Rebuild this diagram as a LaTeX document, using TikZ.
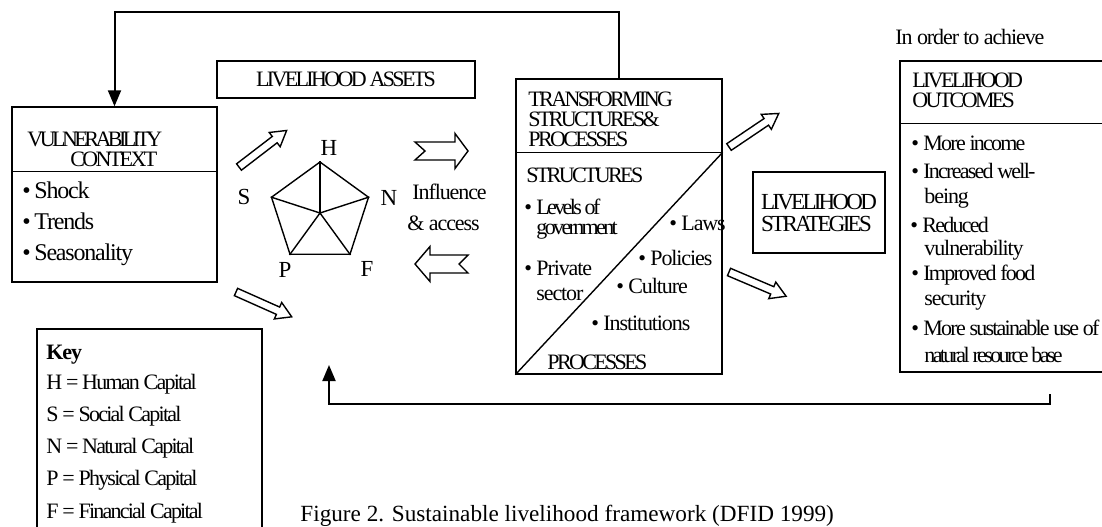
\documentclass[tikz,border=0pt]{standalone}
\usepackage{fontspec}
\setmainfont{Liberation Serif}
\newfontfamily\plainfont{Liberation Serif}
\newfontfamily\bodyfont[LetterSpace=-5]{Liberation Serif}
\newfontfamily\keyfont[LetterSpace=-8]{Liberation Serif}
\newfontfamily\capsfont[LetterSpace=-12]{Liberation Serif}
\newfontfamily\narrowfont[LetterSpace=-16]{Liberation Serif}
\usetikzlibrary{arrows.meta,shapes.geometric}

\newcommand{\bul}{\makebox[6pt][l]{\textbullet}}

% hollow block arrow: tail, angle, length, head length, shaft/head half width, notch
\newcommand{\blockarrow}[7]{%
  \begin{scope}[shift={#1},rotate=#2]
    \pgfmathsetmacro{\hs}{#3-#4}
    \draw[hollow] (0,-#5) -- (\hs,-#5) -- (\hs,-#6) -- (#3,0)
      -- (\hs,#6) -- (\hs,#5) -- (0,#5) -- (#7,0) -- cycle;
  \end{scope}}

\begin{document}
\begin{tikzpicture}[x=0.5pt,y=-0.5pt,
  box/.style={draw,line width=0.7pt,inner sep=0pt},
  txt/.style={anchor=base west,inner sep=0pt,font=\fontsize{11}{13}\selectfont\bodyfont},
  item/.style={anchor=base west,inner sep=0pt,font=\fontsize{11}{13}\selectfont\keyfont},
  ttl/.style={anchor=base west,inner sep=0pt,font=\fontsize{11}{13}\selectfont\capsfont},
  lbl/.style={inner sep=0pt,font=\fontsize{11.5}{13}\selectfont\plainfont},
  hollow/.style={draw,line width=0.7pt,line join=miter},
  feedback/.style={line width=1pt,-{Triangle[length=8pt,width=6.5pt]}}]

  \useasboundingbox (0,0) rectangle (1102,526);

  % Boxes
  \node[box,minimum width=102.5pt,minimum height=87.5pt] (vul) at (114.5,194.5) {};
  \node[box,minimum width=129pt,minimum height=18.5pt,
    font=\fontsize{11}{13}\selectfont\capsfont] (assets) at (346,79.5) {LIVELIHOOD ASSETS};
  \node[box,minimum width=103pt,minimum height=147.5pt] (trans) at (619,226.5) {};
  \node[box,minimum width=66pt,minimum height=40.5pt,align=left,
    font=\fontsize{11.5}{11}\selectfont\capsfont] (strat) at (819,212.5) {LIVELIHOOD\\STRATEGIES};
  \node[box,minimum width=110pt,minimum height=155.5pt] (out) at (1010,216.5) {};
  \node[box,minimum width=112.5pt,minimum height=105.5pt] (key) at (149.5,434.5) {};

  % Dividers
  \draw[box] ([yshift=-32.5pt]vul.north west) -- ([yshift=-32.5pt]vul.north east);
  \draw[box] ([yshift=-37pt]trans.north west) -- ([yshift=-37pt]trans.north east);
  \draw[box] (trans.south west) -- ([yshift=-37pt]trans.north east);
  \draw[box] ([yshift=-31.5pt]out.north west) -- ([yshift=-31.5pt]out.north east);

  % Vulnerability context
  \node[ttl,font=\fontsize{11}{13}\selectfont\narrowfont] (vt1) at (27,146) {VULNERABILITY};
  \node[ttl] (vt2) at (70,166) {CONTEXT};
  \foreach \txt [count=\i] in {Shock,Trends,Seasonality}
    \node[txt,font=\fontsize{12}{14}\selectfont\bodyfont] (vul\i) at (22,167+31*\i) {\bul\txt};

  % Asset pentagon
  \node[draw,regular polygon,regular polygon sides=5,minimum size=51pt,
    inner sep=0pt,line width=0.7pt] (pent) at (320,213) {};
  \foreach \c in {1,...,5}
    \draw[line width=0.7pt] (pent.center) -- (pent.corner \c);
  \node[lbl] (H) at (329,148) {H};
  \node[lbl] (S) at (244,197) {S};
  \node[lbl] (N) at (389,198) {N};
  \node[lbl] (P) at (285,270) {P};
  \node[lbl] (F) at (367,269) {F};

  % Influence and access
  \node[txt] (infl) at (412,199) {Influence};
  \node[txt] (acc) at (407,230) {\& access};
  \blockarrow{(415,151)}{0}{53}{13}{9}{17.5}{10}
  \blockarrow{(468,264)}{180}{53}{15}{9}{17.5}{9}

  % Diagonal arrows
  \blockarrow{(239,167)}{37.5}{60}{15}{4}{9}{0}
  \blockarrow{(236,292)}{-24}{61}{15}{4}{9}{0}
  \blockarrow{(729,147)}{34}{60}{15}{4}{9}{0}
  \blockarrow{(729,272)}{-23}{62}{15}{4}{9}{0}

  % Transforming structures
  \node[ttl] (tr1) at (528,106) {TRANSFORMING};
  \node[ttl] (tr2) at (528,126) {STRUCTURES\&};
  \node[ttl] (tr3) at (528,146) {PROCESSES};
  \node[ttl] (struct) at (526,182) {STRUCTURES};
  \node[ttl] (lev) at (524,214) {\bul Levels of};
  \node[ttl] (gov) at (536,234) {government};
  \node[txt] (priv) at (524,275) {\bul Private};
  \node[txt] (sect) at (536,300) {sector};
  \node[txt] (laws) at (669,230) {\bul Laws};
  \node[txt] (pol) at (638,265) {\bul Policies};
  \node[txt] (cult) at (616,293) {\bul Culture};
  \node[txt] (inst) at (591,330) {\bul Institutions};
  \node[ttl] (proc) at (547,369) {PROCESSES};

  % Outcomes
  \node[txt] (achieve) at (895,44) {In order to achieve};
  \node[ttl] (ot1) at (912,87) {LIVELIHOOD};
  \node[ttl] (ot2) at (912,107) {OUTCOMES};
  \node[item] (o1) at (911,150) {\bul More income};
  \node[item] (o2) at (911,178) {\bul Increased well-};
  \node[txt] (o3) at (924,203) {being};
  \node[item] (o4) at (910,232) {\bul Reduced};
  \node[txt] (o5) at (924,255) {vulnerability};
  \node[item] (o6) at (911,280) {\bul Improved food};
  \node[txt] (o7) at (924,305) {security};
  \node[item] (o8) at (911,335) {\bul More sustainable use of};
  \node[ttl] (o9) at (924,362) {natural resource base};

  % Key
  \node[txt,font=\fontsize{11}{13}\selectfont\bodyfont\bfseries] (keyttl) at (46,359) {Key};
  \foreach \txt [count=\i] in {H = Human Capital,S = Social Capital,N = Natural Capital,
      P = Physical Capital,F = Financial Capital}
    \node[item] (key\i) at (46,356.75+32.25*\i) {\txt};

  % Feedback lines
  \draw[feedback] (trans.north) -- ++(0,-66) -| (vul.north);
  \coordinate (fbstart) at (1050,394);
  \coordinate (fbend) at (329,365);
  \draw[feedback] (fbstart) -- ++(0,10) -| (fbend);

  % Caption
  \node[anchor=base west,inner sep=0pt,font=\fontsize{11.6}{14}\selectfont\plainfont] (caption)
    at (300,521) {Figure 2. Sustainable livelihood framework (DFID 1999)};
\end{tikzpicture}
\end{document}
